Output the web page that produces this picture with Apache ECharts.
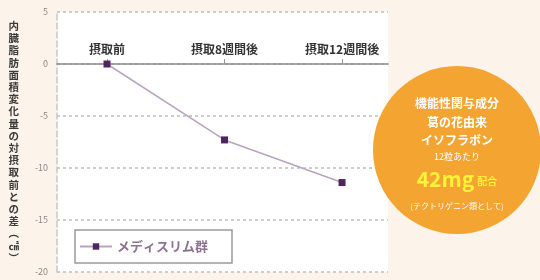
<!DOCTYPE html>
<html>
<head>
<meta charset="utf-8">
<script src="https://cdn.jsdelivr.net/npm/echarts@6/dist/echarts.min.js"></script>
<style>
  html, body { margin: 0; padding: 0; background: #fcf4ea; }
  #chart { width: 540px; height: 280px; }
</style>
</head>
<body>
<div id="chart"></div>
<script>
const categories = ['摂取前', '摂取8週間後', '摂取12週間後']
const seriesName = 'メディスリム群'
const values = [0, -7.3, -11.4]
const yTicks = [5, 0, -5, -10, -15, -20]
const yTitle = '内臓脂肪面積変化量の対摂取前との差︵㎠︶'
const badgeLines = ['機能性関与成分', '葛の花由来', 'イソフラボン', '12粒あたり']

const font = '"Noto Sans CJK JP", "Noto Sans", sans-serif'
const lineColor = '#b9a3c2'
const dotColor = '#4f2560'
const orange = '#f4a431'

// grid: top 12, height 260, y range 5..-20 -> zero line 52px below top
const gridTop = 12
const gridH = 260
const zeroOffset = gridH * yTicks[0] / (yTicks[0] - yTicks[yTicks.length - 1])

const chart = echarts.init(document.getElementById('chart'))

function txt(y, text, f, fill) {
  return {
    type: 'text', x: 457, y, z: 20,
    style: { text, fill: fill || '#fff', font: f, textAlign: 'center', textVerticalAlign: 'middle' },
  }
}

const option = {
  backgroundColor: '#fcf4ea',
  textStyle: { fontFamily: font },
  grid: {
    left: 57, right: 152, top: gridTop, bottom: 280 - gridTop - gridH,
    show: true, backgroundColor: '#ffffff', borderWidth: 0,
  },
  legend: {
    data: [seriesName],
    left: 75, top: 230,
    orient: 'horizontal',
    backgroundColor: '#ffffff',
    borderColor: '#9a9a9a',
    borderWidth: 1.5,
    padding: [10, 24, 10, 4],
    itemWidth: 32,
    itemHeight: 8,
    itemGap: 6,
    textStyle: { color: '#8c7392', fontSize: 13, fontWeight: 'bold', fontFamily: font },
  },
  xAxis: {
    type: 'value',
    min: -0.4255,
    max: 2.391,
    position: 'top',
    offset: -zeroOffset,
    axisLine: { onZero: false, lineStyle: { color: '#8a8a8a', width: 1.5 } },
    axisTick: { show: true, customValues: [0, 1, 2], length: 5, lineStyle: { color: '#999' } },
    axisLabel: {
      customValues: [0, 1, 2],
      margin: 9,
      color: '#333',
      fontSize: 12,
      fontWeight: 'bold',
      fontFamily: font,
      formatter: v => categories[Math.round(v)],
    },
    splitLine: { show: false },
  },
  yAxis: {
    type: 'value',
    min: yTicks[yTicks.length - 1],
    max: yTicks[0],
    interval: 5,
    name: yTitle.split('').join('\n'),
    nameLocation: 'middle',
    nameRotate: 0,
    nameGap: 38,
    nameTextStyle: { color: '#3a3a3a', fontSize: 10.5, fontWeight: 'bold', lineHeight: 12.2, fontFamily: font },
    axisLine: { show: true, onZero: false, lineStyle: { color: '#c8c8c8', type: 'dashed', width: 1.5 } },
    axisTick: { show: false },
    axisLabel: { color: '#888', fontSize: 9, margin: 9, fontFamily: font },
    splitLine: { show: true, lineStyle: { color: '#bdbdbd', type: [3, 3], width: 1.5 } },
  },
  series: [
    {
      name: seriesName,
      type: 'line',
      data: values.map((v, i) => [i, v]),
      symbol: 'rect',
      symbolSize: 7,
      lineStyle: { color: lineColor, width: 1.5 },
      itemStyle: { color: dotColor },
      z: 5,
    },
  ],
  graphic: [
    {
      type: 'circle',
      z: 10,
      shape: { cx: 457, cy: 150, r: 84 },
      style: { fill: orange },
    },
    txt(103, badgeLines[0], `bold 12px ${font}`),
    txt(122, badgeLines[1], `bold 12px ${font}`),
    txt(140, badgeLines[2], `bold 12px ${font}`),
    txt(157, badgeLines[3], `9px ${font}`),
    {
      type: 'text', x: 457, y: 179, z: 20,
      style: {
        text: '{a|42mg}{b|配合}',
        textAlign: 'center', textVerticalAlign: 'middle',
        rich: {
          a: { fill: '#fff23a', fontSize: 21, fontWeight: 'bold', fontFamily: font },
          b: { fill: '#fff23a', fontSize: 10, fontWeight: 'bold', fontFamily: font, padding: [4, 0, 0, 3] },
        },
      },
    },
    txt(206, '(テクトリゲニン類として)', `8px ${font}`),
  ],
}

chart.setOption(option)
</script>
</body>
</html>
